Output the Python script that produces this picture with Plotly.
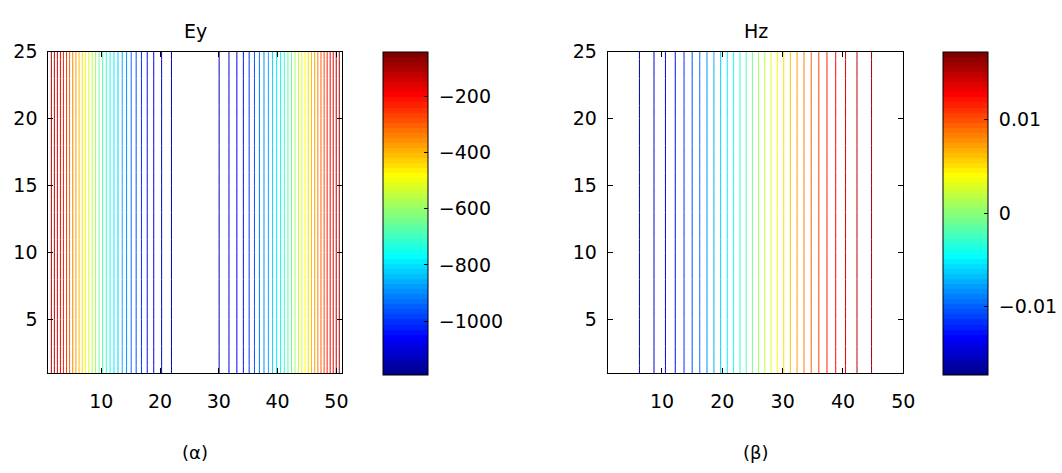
import numpy as np
import plotly.graph_objects as go

# ---------------- data ----------------
# Ey profile along x (columns 1..51); field is uniform along y (rows 1..25)
ey_x = list(range(1, 52))
ey_profile = [-40, -112, -184, -256, -326, -395, -463, -530, -594, -656,
              -716, -773, -827, -878, -926, -970, -1011, -1048, -1081, -1109,
              -1134, -1154, -1170, -1181, -1188, -1190, -1188, -1181, -1170, -1154,
              -1134, -1109, -1081, -1048, -1011, -970, -926, -878, -827, -773,
              -716, -656, -594, -530, -463, -395, -326, -256, -184, -112, -40]

# Hz profile along x (columns 1..50)
hz_x = list(range(1, 51))
hz_half = [0.01729, 0.01722, 0.01709, 0.01688, 0.01661, 0.01628, 0.01588, 0.01541,
           0.01489, 0.01431, 0.01367, 0.01298, 0.01223, 0.01144, 0.01060, 0.00972,
           0.00881, 0.00785, 0.00687, 0.00586, 0.00483, 0.00377, 0.00271, 0.00163, 0.00054]
hz_profile = [-v for v in hz_half] + hz_half[::-1]

y_rows = list(range(1, 26))
n_levels = 30

ey_ticks = [-1000, -800, -600, -400, -200]
ey_ticktext = ["−1000", "−800", "−600", "−400", "−200"]
hz_ticks = [-0.01, 0, 0.01]
hz_ticktext = ["−0.01", "0", "0.01"]
titles = ["Ey", "Hz"]
captions = ["(α)", "(β)"]

# ---------------- MATLAB jet(64) ----------------
def jet(m=64):
    n = int(np.ceil(m / 4))
    u = np.concatenate([np.arange(1, n + 1) / n, np.ones(n - 1), np.arange(n, 0, -1) / n])
    g = int(np.ceil(n / 2)) - (1 if m % 4 == 1 else 0) + np.arange(1, len(u) + 1)
    r = g + n
    b = g - n
    J = np.zeros((m, 3))
    for idx, col in [(r, 0), (g, 1), (b, 2)]:
        mask = (idx >= 1) & (idx <= m)
        J[idx[mask] - 1, col] = u[mask]
    return J

JET = jet(64)

def rgb(c):
    return "rgb(%d,%d,%d)" % tuple(int(round(v * 255)) for v in c)

def stepped_scale():
    cs = []
    for i in range(64):
        cs.append([i / 64, rgb(JET[i])])
        cs.append([(i + 1) / 64, rgb(JET[i])])
    return cs

W, H = 1062, 473
FONT = "DejaVu Sans, Liberation Sans, Arial, sans-serif"
FS = 19

fig = go.Figure()

panels = [
    dict(x=ey_x, prof=ey_profile, xd=(48.3, 342.3), cbx=383.3, ticks=ey_ticks,
         ticktext=ey_ticktext, xr=[1, 51]),
    dict(x=hz_x, prof=hz_profile, xd=(607.7, 903.3), cbx=943.3, ticks=hz_ticks,
         ticktext=hz_ticktext, xr=[1, 50]),
]
ytop, ybot = 51.7, 373.3
cb_top, cb_bot = 51.7, 374.3

for i, p in enumerate(panels):
    sfx = "" if i == 0 else "2"
    prof = p["prof"]
    zmin, zmax = min(prof), max(prof)
    d = (zmax - zmin) / (n_levels + 1)
    z = [list(prof) for _ in y_rows]
    for k in range(1, n_levels + 1):
        v = zmin + d * k
        idx = min(int(np.floor((v - zmin) / (zmax - zmin) * 64)), 63)
        fig.add_trace(go.Contour(
            x=p["x"], y=y_rows, z=z,
            xaxis="x" + sfx, yaxis="y" + sfx,
            autocontour=False,
            contours=dict(start=v, end=v, size=d, coloring="none"),
            line=dict(width=1, color=rgb(JET[idx])),
            showscale=False, hoverinfo="skip",
        ))
    # colorbar carrier
    fig.add_trace(go.Scatter(
        x=[p["x"][len(p["x"]) // 2]], y=[13], mode="markers",
        xaxis="x" + sfx, yaxis="y" + sfx,
        marker=dict(size=1, opacity=0, color=[zmin], cmin=zmin, cmax=zmax,
                    colorscale=stepped_scale(), showscale=True,
                    colorbar=dict(
                        x=p["cbx"] / W, xanchor="left", xpad=0, ypad=0,
                        y=1 - (cb_top + cb_bot) / 2 / H, yanchor="middle",
                        len=(cb_bot - cb_top) / H, lenmode="fraction",
                        thickness=45, thicknessmode="pixels",
                        outlinecolor="black", outlinewidth=1, borderwidth=0,
                        tickvals=p["ticks"],
                        ticktext=["\u00a0" + t for t in p["ticktext"]],
                        ticks="inside", ticklen=4, tickcolor="black",
                        tickfont=dict(family=FONT, size=FS, color="black"),
                    )),
        hoverinfo="skip", showlegend=False,
    ))
    axcommon = dict(showline=True, linecolor="black", linewidth=1, mirror="ticks",
                    ticks="inside", ticklen=5, tickcolor="black", showgrid=False,
                    zeroline=False, tickfont=dict(family=FONT, size=FS, color="black"))
    fig.update_layout(**{
        "xaxis" + sfx: dict(domain=[p["xd"][0] / W, p["xd"][1] / W], range=p["xr"],
                            tickvals=[10, 20, 30, 40, 50], anchor="y" + sfx,
                            ticklabelstandoff=11, **axcommon),
        "yaxis" + sfx: dict(domain=[1 - ybot / H, 1 - ytop / H], range=[1, 25],
                            tickvals=[5, 10, 15, 20, 25], anchor="x" + sfx,
                            ticklabelstandoff=6, **axcommon),
    })
    cx = (p["xd"][0] + p["xd"][1]) / 2 / W
    fig.add_annotation(text=titles[i], x=cx, y=1 - 31 / H, xref="paper", yref="paper",
                       xanchor="center", yanchor="middle", showarrow=False,
                       font=dict(family=FONT, size=FS, color="black"))
    fig.add_annotation(text=captions[i], x=cx, y=1 - 452 / H, xref="paper", yref="paper",
                       xanchor="center", yanchor="middle", showarrow=False,
                       font=dict(family=FONT, size=18, color="black"))

fig.update_layout(width=W, height=H,
                  margin=dict(l=0, r=0, t=0, b=0, autoexpand=False),
                  paper_bgcolor="white", plot_bgcolor="white", showlegend=False)

fig.write_html("out.html")
